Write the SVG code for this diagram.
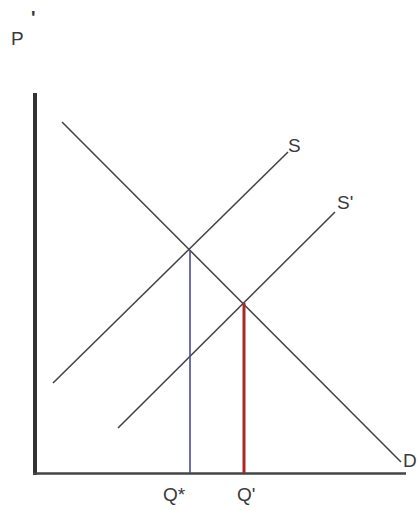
<svg xmlns="http://www.w3.org/2000/svg" width="419" height="510" viewBox="0 0 419 510">
<style>
text{font-family:"Liberation Sans",Arial,sans-serif;fill:#3a3a3a;font-size:19px}
.c{stroke:#444;stroke-width:1.6;fill:none}
</style>
<rect width="419" height="510" fill="#fff"/>
<g id="axes">
<line x1="35" y1="93" x2="35" y2="475" stroke="#333" stroke-width="4"/>
<line x1="33" y1="473.5" x2="406" y2="473.5" stroke="#444" stroke-width="2.5"/>
</g>
<g id="connectors">
<line class="c" x1="62" y1="122" x2="401" y2="462"/>
<line class="c" x1="53" y1="383" x2="288" y2="152"/>
<line class="c" x1="118" y1="428" x2="335" y2="212"/>
<line x1="190" y1="251" x2="190" y2="473" stroke="#4a4aa0" stroke-width="1.6"/>
<line x1="244" y1="303" x2="244" y2="473" stroke="#a82828" stroke-width="3"/>
</g>
<g id="labels">
<text x="11" y="45" font-size="20">P</text>
<text x="31" y="24" font-size="22" font-weight="bold">'</text>
<text x="288" y="152">S</text>
<text x="337" y="209">S'</text>
<text x="403" y="467">D</text>
<text x="163" y="501">Q*</text>
<text x="237" y="501">Q'</text>
</g>
</svg>
